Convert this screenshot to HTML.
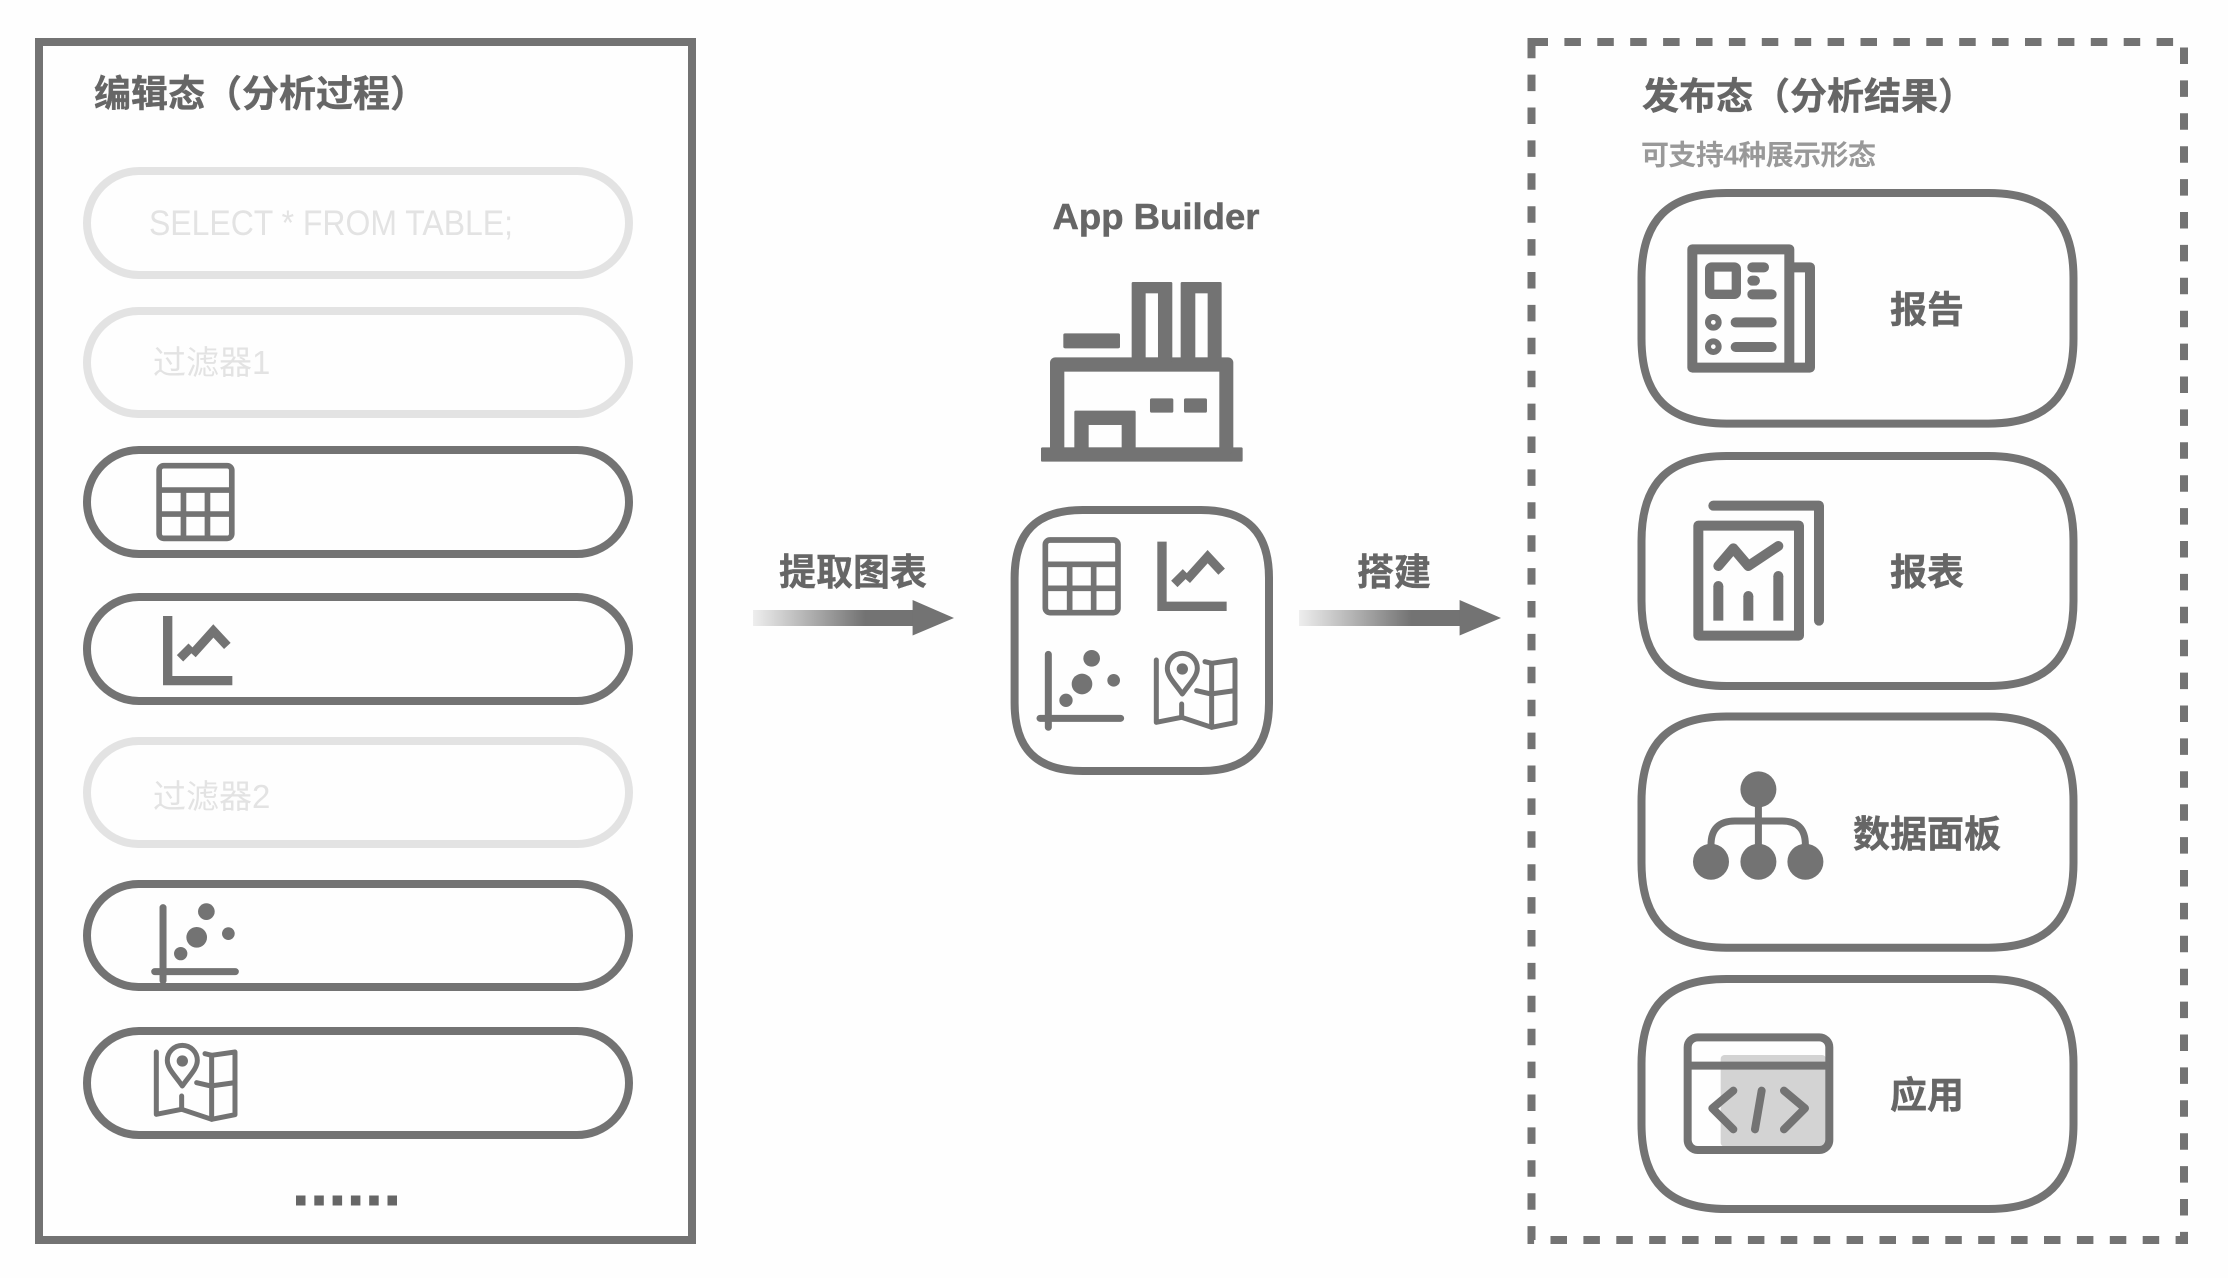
<!DOCTYPE html>
<html lang="zh">
<head>
<meta charset="utf-8">
<style>
html,body{margin:0;padding:0;background:#fefefe}
svg{display:block}
text{font-family:"Liberation Sans","Noto Sans CJK SC",sans-serif}
.b{font-weight:700;fill:#666;font-size:37px;stroke:#666;stroke-width:.4}
.l{fill:#e3e3e3;font-size:33px}
</style>
</head>
<body>
<svg width="2228" height="1278" viewBox="0 0 2228 1278" xmlns="http://www.w3.org/2000/svg">
<defs>
<linearGradient id="g" x1="0" x2="1" y1="0" y2="0"><stop offset="0" stop-color="#eeeeee"/><stop offset=".7" stop-color="#737373"/><stop offset="1" stop-color="#737373"/></linearGradient>
<g id="tbl" fill="none" stroke="#737373" stroke-width="17">
<rect x="46" y="60" width="218" height="218" rx="14"/>
<path d="M46 133H264M46 205H264M119 133V278M191 133V278"/>
</g>
<g id="cht" fill="none" stroke="#737373">
<path d="M396 65V259H590" stroke-width="28"/>
<path d="M433 192L468 157M470 180L533 110L575 155" stroke-width="27"/>
</g>
<g id="sct" fill="#737373">
<path d="M30 595H272M55 403V622" fill="none" stroke="#737373" stroke-width="21" stroke-linecap="round"/>
<circle cx="185" cy="415" r="25"/><circle cx="156" cy="492" r="31"/><circle cx="251" cy="481" r="19"/><circle cx="108" cy="541" r="20"/>
</g>
<g id="mp" fill="none" stroke="#737373" stroke-width="15" stroke-linecap="round" stroke-linejoin="round">
<path d="M457 522C435 490 412 470 412 445A45 45 0 0 1 502 445C502 470 479 490 457 522Z"/>
<circle cx="457" cy="447" r="17" fill="#737373" stroke="none"/>
<path d="M379 420V607L455 592L545 622L615 608V420L545 430L525 425"/>
<path d="M545 430V622M500 512L542 522L615 512M455 552V592"/>
</g>
</defs>
<rect width="2228" height="1278" fill="#fefefe"/>

<!-- left panel -->
<rect x="39" y="42" width="653" height="1198" fill="none" stroke="#737373" stroke-width="8"/>
<text class="b" x="94" y="106.5">编辑态（分析过程）</text>
<g fill="none" stroke-width="8">
<rect x="87" y="171" width="542" height="104" rx="52" stroke="#e3e3e3"/>
<rect x="87" y="311" width="542" height="103" rx="51.5" stroke="#e3e3e3"/>
<rect x="87" y="450" width="542" height="104" rx="52" stroke="#737373"/>
<rect x="87" y="597" width="542" height="104" rx="52" stroke="#737373"/>
<rect x="87" y="741" width="542" height="103" rx="51.5" stroke="#e3e3e3"/>
<rect x="87" y="884" width="542" height="103" rx="51.5" stroke="#737373"/>
<rect x="87" y="1031" width="542" height="104" rx="52" stroke="#737373"/>
</g>
<text x="149" y="235" font-size="35" fill="#e3e3e3" textLength="364" lengthAdjust="spacingAndGlyphs">SELECT * FROM TABLE;</text>
<text class="l" x="153" y="374">过滤器1</text>
<text class="l" x="153" y="808">过滤器2</text>
<use href="#tbl" transform="translate(143.8 445.7) scale(.3333)"/>
<use href="#cht" transform="translate(35.7 594.3) scale(.3333)"/>
<use href="#sct" transform="translate(144.7 773.3) scale(.3333)"/>
<use href="#mp" transform="translate(30 912) scale(.3333)"/>
<g fill="#666">
<rect x="296" y="1195.5" width="9.5" height="10"/><rect x="314.3" y="1195.5" width="9.5" height="10"/><rect x="332.6" y="1195.5" width="9.5" height="10"/><rect x="350.9" y="1195.5" width="9.5" height="10"/><rect x="369.2" y="1195.5" width="9.5" height="10"/><rect x="387.5" y="1195.5" width="9.5" height="10"/>
</g>

<!-- arrows -->
<text class="b" x="779" y="585">提取图表</text>
<rect x="753" y="610" width="160" height="16" fill="url(#g)"/>
<path d="M912.6 600L954 618L912.6 635.5Z" fill="#737373"/>
<text class="b" x="1357" y="585">搭建</text>
<rect x="1299" y="610" width="161" height="16" fill="url(#g)"/>
<path d="M1459.6 600L1501 618L1459.6 635.5Z" fill="#737373"/>

<!-- center -->
<text x="1052.5" y="229" font-size="36" font-weight="700" fill="#666" stroke="#666" stroke-width=".5" textLength="207" lengthAdjust="spacingAndGlyphs">App Builder</text>
<g transform="translate(1030 270) scale(.3333)" fill="#737373">
<rect x="33" y="532" width="605" height="43" rx="4"/>
<rect x="60" y="262" width="550" height="290" rx="16"/>
<rect x="305" y="36" width="122" height="240" rx="4"/>
<rect x="452" y="36" width="123" height="240" rx="4"/>
<rect x="100" y="190" width="170" height="45" rx="5"/>
<g fill="#fefefe">
<rect x="103" y="305" width="465" height="227"/>
<rect x="347" y="70" width="37" height="192"/>
<rect x="496" y="70" width="37" height="192"/>
</g>
<rect x="133" y="422" width="184" height="115" rx="4"/>
<rect x="176" y="465" width="99" height="67" fill="#fefefe"/>
<rect x="360" y="385" width="70" height="43" rx="5"/>
<rect x="462" y="385" width="69" height="43" rx="5"/>
</g>
<path d="M1082.6 510H1201c46 0 68 22 68 68V703c0 46-22 68-68 68H1082.6c-46 0-68-22-68-68V578c0-46 22-68 68-68Z" fill="none" stroke="#737373" stroke-width="8"/>
<g transform="translate(1030 520) scale(.3333)">
<use href="#tbl"/><use href="#cht"/><use href="#sct"/><use href="#mp"/>
</g>

<!-- right panel -->
<path d="M1531.5 42H2184V1240H1531.5Z" fill="none" stroke="#737373" stroke-width="8" stroke-dasharray="16.5 16.4"/>
<text class="b" x="1642" y="109">发布态（分析结果）</text>
<text x="1641" y="164.5" font-size="28" font-weight="700" fill="#999" textLength="235">可支持4种展示形态</text>
<g fill="none" stroke="#737373" stroke-width="8">
<path d="M1726.5 193H1988.5c58 0 85 27 85 85V338.6c0 58-27 85-85 85H1726.5c-58 0-85-27-85-85V278c0-58 27-85 85-85Z"/>
<path d="M1726.5 456H1988.5c58 0 85 27 85 85V601c0 58-27 85-85 85H1726.5c-58 0-85-27-85-85V541c0-58 27-85 85-85Z"/>
<path d="M1726.5 716.5H1988.5c58 0 85 27 85 85V862.7c0 58-27 85-85 85H1726.5c-58 0-85-27-85-85V801.5c0-58 27-85 85-85Z"/>
<path d="M1726.5 979H1988.5c58 0 85 27 85 85V1124c0 58-27 85-85 85H1726.5c-58 0-85-27-85-85V1064c0-58 27-85 85-85Z"/>
</g>
<text class="b" x="1927" y="322.5" text-anchor="middle">报告</text>
<text class="b" x="1927" y="585" text-anchor="middle">报表</text>
<text class="b" x="1927" y="847" text-anchor="middle">数据面板</text>
<text class="b" x="1927" y="1108" text-anchor="middle">应用</text>

<!-- report icon -->
<g transform="translate(1660 220) scale(.3333)" fill="none" stroke="#737373">
<path d="M388 142H450V443H97V88H388V443" stroke-width="30" stroke-linejoin="round"/>
<rect x="149" y="141" width="80" height="82" stroke-width="28" rx="6"/>
<path d="M277 142H312M277 182H285M277 223H335M227 307H335M227 381H335" stroke-width="30" stroke-linecap="round"/>
<circle cx="160" cy="307" r="16" stroke-width="18"/>
<circle cx="160" cy="380" r="16" stroke-width="18"/>
</g>

<!-- chart report icon -->
<g transform="translate(1670 490) scale(.3333)" fill="none" stroke="#737373" stroke-width="30">
<rect x="85" y="107" width="302" height="330" stroke-linejoin="round"/>
<path d="M130 47H447V392" stroke-linecap="round" stroke-linejoin="round"/>
<path d="M145 228L190 175L235 228L325 168" stroke-linecap="round" stroke-linejoin="round"/>
<path d="M145 392V288M235 392V318M325 392V258"/>
<g fill="#737373" stroke="none"><circle cx="145" cy="288" r="15"/><circle cx="235" cy="318" r="15"/><circle cx="325" cy="258" r="15"/></g>
</g>

<!-- hierarchy icon -->
<g fill="#737373">
<path d="M1758.4 789V862M1711 862V845Q1711 821 1735 821H1782Q1805.4 821 1805.4 845V862" fill="none" stroke="#737373" stroke-width="7"/>
<circle cx="1758.4" cy="789.4" r="18"/>
<circle cx="1711" cy="861.7" r="18"/><circle cx="1758.4" cy="861.7" r="18"/><circle cx="1805.4" cy="861.7" r="18"/>
</g>

<!-- code icon -->
<g transform="translate(1670 1020) scale(.3333)">
<rect x="152" y="105" width="316" height="275" rx="12" fill="#d3d3d3"/>
<g fill="none" stroke="#737373" stroke-width="24" stroke-linecap="round" stroke-linejoin="round">
<rect x="53" y="52" width="425" height="338" rx="30"/>
<path d="M53 137H478" stroke-linecap="butt"/>
<path d="M190 212L127 265L190 328M342 212L405 265L342 328M275 212L255 328"/>
</g>
</g>
</svg>
</body>
</html>
